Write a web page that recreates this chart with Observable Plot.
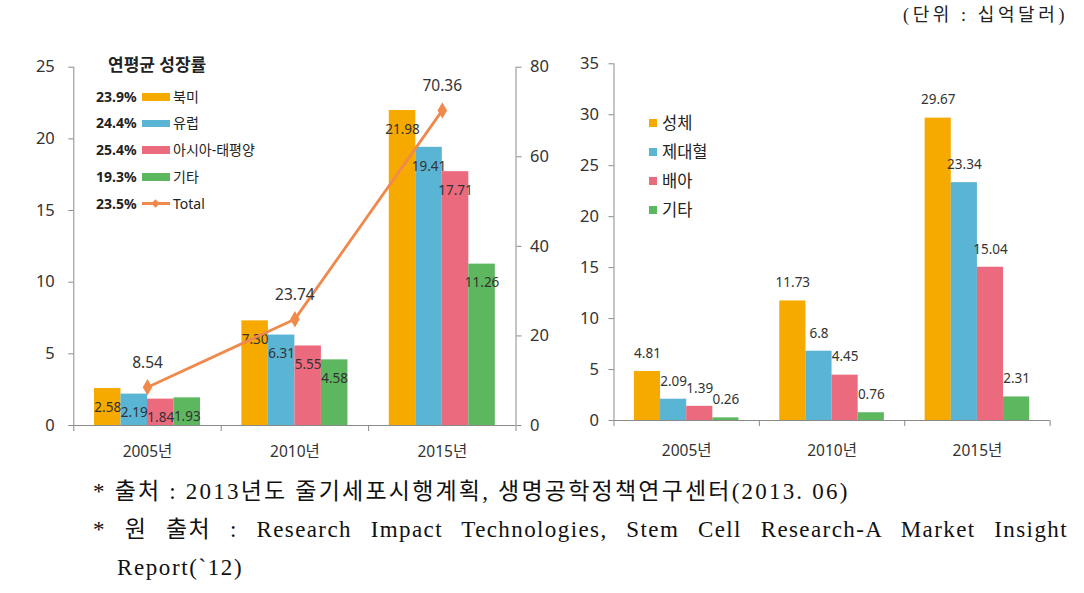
<!DOCTYPE html>
<html><head><meta charset="utf-8">
<script src="https://cdn.jsdelivr.net/npm/d3@7"></script>
<script src="https://cdn.jsdelivr.net/npm/@observablehq/plot@0.6"></script>
<style>
body{margin:0;background:#fff;}
#page{position:relative;width:1084px;height:593px;overflow:hidden;background:#fff;font-family:"Noto Sans","Noto Sans CJK KR",sans-serif;color:#222;}
.abs{position:absolute;white-space:pre;}
.layer{position:absolute;}
.layer svg{overflow:visible;}
</style></head><body><div id="page"></div>
<script>
// ---------- data ----------
const years = ["2005년", "2010년", "2015년"];
const regions = ["북미", "유럽", "아시아-태평양", "기타"];
const regionGrowth = ["23.9%", "24.4%", "25.4%", "19.3%"];
const totalGrowth = "23.5%";
const northAmerica = [2.58, 7.30, 21.98];
const europe = [2.19, 6.31, 19.41];
const asiaPacific = [1.84, 5.55, 17.71];
const regionOther = [1.93, 4.58, 11.26];
const totals = [8.54, 23.74, 70.36];
const leftTicks = [0, 5, 10, 15, 20, 25];
const rightTicks = [0, 20, 40, 60, 80];

const cellTypes = ["성체", "제대혈", "배아", "기타"];
const adult = [4.81, 11.73, 29.67];
const cordBlood = [2.09, 6.8, 23.34];
const embryonic = [1.39, 4.45, 15.04];
const typeOther = [0.26, 0.76, 2.31];
const typeTicks = [0, 5, 10, 15, 20, 25, 30, 35];

const legendTitle = "연평균 성장률";
const totalName = "Total";
const unitNote = "(단위 : 십억달러)";
const note1 = "* 출처 : 2013년도 줄기세포시행계획, 생명공학정책연구센터(2013. 06)";
const note2 = "* 원 출처 : Research Impact Technologies, Stem Cell Research-A Market Insight";
const note3 = "Report(`12)";

// ---------- styles ----------
const barColors = ["#F6AA00", "#5AB4D4", "#EC6A7E", "#5DB75F"];
const lineColor = "#F0894C";
const axisColor = "#8a8a8a";
const textColor = "#333";
const font = "Noto Sans, Noto Sans CJK KR, sans-serif";

const page = document.getElementById("page");
function layer(node, left, top) {
  const d = document.createElement("div");
  d.className = "layer"; d.style.left = left + "px"; d.style.top = top + "px";
  d.appendChild(node); page.appendChild(d); return d;
}
function label(text, left, cy, size, opts = {}) {
  const d = document.createElement("div");
  d.className = "abs"; d.textContent = text;
  d.style.fontSize = size + "px"; d.style.lineHeight = (size * 1.4) + "px";
  d.style.top = (cy - size * 0.7) + "px";
  if (opts.right != null) d.style.right = opts.right + "px"; else d.style.left = left + "px";
  if (opts.bold) d.style.fontWeight = "bold";
  if (opts.family) d.style.fontFamily = opts.family;
  if (opts.color) d.style.color = opts.color;
  if (opts.spacing) d.style.letterSpacing = opts.spacing + "px";
  page.appendChild(d); return d;
}
function box(left, top, w, h, color) {
  const d = document.createElement("div");
  d.className = "abs"; Object.assign(d.style, {left: left + "px", top: top + "px", width: w + "px", height: h + "px", background: color});
  page.appendChild(d); return d;
}
const baseStyle = {fontFamily: font, fontSize: "15px", color: textColor, background: "transparent", overflow: "visible"};

// ---------- left chart ----------
const regionSeries = [northAmerica, europe, asiaPacific, regionOther];
const regionData = regionSeries.flatMap((vals, s) => vals.map((v, i) => ({year: years[i], series: regions[s], value: v})));
const totalData = totals.map((v, i) => ({pos: i + 0.5, value: v}));
const k = leftTicks[leftTicks.length - 1] / rightTicks[rightTicks.length - 1];

const L = {width: 560, height: 470, marginLeft: 73.3, marginRight: 44.5, marginTop: 66.7, marginBottom: 45};

const leftBars = Plot.plot({
  ...L, style: baseStyle,
  fx: {domain: years, padding: 0, axis: null, round: false},
  x: {domain: regions, paddingInner: 0, paddingOuter: 0.78, axis: null, round: false},
  y: {domain: [0, 25], axis: null},
  color: {domain: regions, range: barColors},
  marks: [
    Plot.barY(regionData, {fx: "year", x: "series", y: "value", fill: "series"}),
    Plot.text(regionData, {fx: "year", x: "series", y: "value", text: d => d.value.toFixed(2), dy: 19, fontSize: 13.5, fill: textColor})
  ]
});
layer(leftBars, 0, 0);

const leftOver = Plot.plot({
  ...L, style: baseStyle,
  x: {type: "linear", domain: [0, 3]},
  y: {domain: [0, 25]},
  marks: [
    Plot.ruleX([0], {stroke: axisColor}),
    Plot.ruleX([3], {stroke: axisColor}),
    Plot.ruleY([0], {stroke: axisColor}),
    Plot.axisY({ticks: leftTicks, anchor: "left", tickSize: 5, tickPadding: 14, stroke: axisColor, fill: textColor, fontSize: 16.5, label: null, tickFormat: d => String(d)}),
    Plot.axisY({ticks: rightTicks.map(v => v * k), anchor: "right", tickSize: 5, tickPadding: 9, stroke: axisColor, fill: textColor, fontSize: 16.5, label: null, tickFormat: d => String(Math.round(d / k))}),
    Plot.axisX({ticks: [0, 1, 2, 3], anchor: "bottom", tickSize: 6, stroke: axisColor, label: null, tickFormat: () => ""}),
    Plot.axisX({ticks: years.map((_, i) => i + 0.5), anchor: "bottom", tickSize: 0, tickPadding: 20, fill: textColor, fontSize: 15.5, label: null, tickFormat: d => years[Math.floor(d)]}),
    Plot.line(totalData, {x: "pos", y: d => d.value * k, stroke: lineColor, strokeWidth: 2.8}),
    Plot.dot(totalData, {x: "pos", y: d => d.value * k, symbol: "diamond", r: 5, fill: lineColor, stroke: null}),
    Plot.text(totalData, {x: "pos", y: d => d.value * k, text: d => d.value.toFixed(2), dy: -24, fontSize: 15.5, fill: textColor})
  ]
});
layer(leftOver, 0, 0);

// left legend
label(legendTitle, 108, 65, 17, {bold: true, color: "#222"});
const rowY0 = 96.5, rowStep = 26.7;
regions.forEach((r, i) => {
  const cy = rowY0 + i * rowStep;
  label(regionGrowth[i], 96, cy, 14, {bold: true, color: "#222"});
  box(141.7, cy - 3.5, 28.3, 7.5, barColors[i]);
  label(r, 173, cy, 14, {color: "#222"});
});
{
  const cy = rowY0 + 4 * rowStep;
  label(totalGrowth, 96, cy, 14, {bold: true, color: "#222"});
  box(141.7, cy - 1.25, 28.3, 2.5, lineColor);
  const dmd = box(152.3, cy - 3.5, 7, 7, lineColor); dmd.style.transform = "rotate(45deg) scale(0.85)";
  label(totalName, 173, cy, 14, {color: "#222"});
}

// ---------- right chart ----------
const typeSeries = [adult, cordBlood, embryonic, typeOther];
const typeData = typeSeries.flatMap((vals, s) => vals.map((v, i) => ({year: years[i], series: cellTypes[s], value: v})));
const R = {width: 524, height: 470, marginLeft: 53.5, marginRight: 34.4, marginTop: 63.3, marginBottom: 50};

const rightBars = Plot.plot({
  ...R, style: baseStyle,
  fx: {domain: years, padding: 0, axis: null, round: false},
  x: {domain: cellTypes, paddingInner: 0, paddingOuter: 0.78, axis: null, round: false},
  y: {domain: [0, 35], axis: null},
  color: {domain: cellTypes, range: barColors},
  marks: [
    Plot.barY(typeData, {fx: "year", x: "series", y: "value", fill: "series"}),
    Plot.text(typeData, {fx: "year", x: "series", y: "value", text: d => String(d.value), dy: -18, fontSize: 13.5, fill: textColor})
  ]
});
layer(rightBars, 560, 0);

const rightOver = Plot.plot({
  ...R, style: baseStyle,
  x: {type: "linear", domain: [0, 3]},
  y: {domain: [0, 35]},
  marks: [
    Plot.ruleX([0], {stroke: axisColor}),
    Plot.ruleY([0], {stroke: axisColor}),
    Plot.axisY({ticks: typeTicks, anchor: "left", tickSize: 5, tickPadding: 10, stroke: axisColor, fill: textColor, fontSize: 16.5, label: null, tickFormat: d => String(d)}),
    Plot.axisX({ticks: [0, 1, 2, 3], anchor: "bottom", tickSize: 6, stroke: axisColor, label: null, tickFormat: () => ""}),
    Plot.axisX({ticks: years.map((_, i) => i + 0.5), anchor: "bottom", tickSize: 0, tickPadding: 24, fill: textColor, fontSize: 15.5, label: null, tickFormat: d => years[Math.floor(d)]})
  ]
});
layer(rightOver, 560, 0);

// right legend
cellTypes.forEach((t, i) => {
  const cy = 122.7 + i * 29.1;
  box(649.3, cy - 4, 8, 8, barColors[i]);
  label(t, 662, cy, 16.5, {color: "#222"});
});

// ---------- notes ----------
const serif = "Liberation Serif, Noto Sans CJK KR, serif";
label(unitNote, 0, 16, 18, {right: 16, family: serif, color: "#222", spacing: 3.6});
label(note1, 93, 491.7, 23, {family: serif, color: "#111", spacing: 2.2});
const n2 = label(note2, 93, 530, 23, {family: serif, color: "#111", spacing: 1.4});
Object.assign(n2.style, {width: "975px", textAlign: "justify", textAlignLast: "justify", whiteSpace: "nowrap", overflow: "visible"});
label(note3, 117, 568, 23, {family: serif, color: "#111", spacing: 1.6});
</script>
</body></html>
